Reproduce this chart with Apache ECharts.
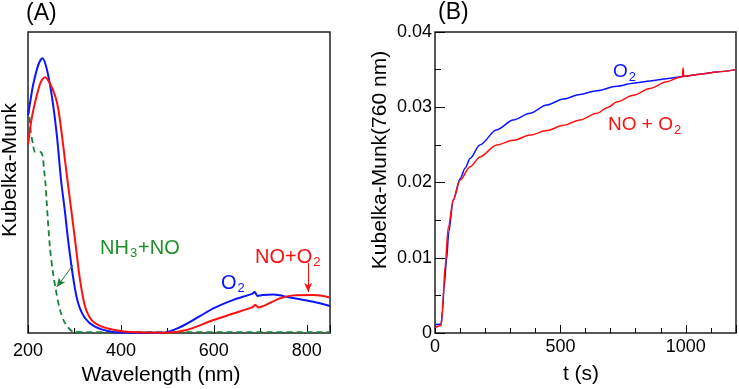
<!DOCTYPE html>
<html>
<head>
<meta charset="utf-8">
<script src="https://cdn.jsdelivr.net/npm/echarts@6/dist/echarts.min.js"></script>
<style>html,body{margin:0;padding:0;background:#fff;}#c{width:739px;height:389px;}</style>
</head>
<body>
<div id="c"></div>
<script>
// ---- Panel A: spectra ----
const wlBlue = [200, 205, 211, 222, 231, 240, 251, 262, 271, 279, 287, 298, 308, 323, 344, 380, 420, 490, 527, 570, 599, 642, 682, 688, 694, 705, 728, 764, 814, 850];
const kmBlue = [0.724, 0.77, 0.824, 0.89, 0.913, 0.88, 0.79, 0.658, 0.51, 0.41, 0.30, 0.176, 0.099, 0.049, 0.021, 0.004, 0.001, 0.001, 0.019, 0.056, 0.082, 0.11, 0.13, 0.136, 0.123, 0.126, 0.128, 0.118, 0.104, 0.09];
const wlRed = [200, 208, 219, 228, 237, 247, 258, 265, 272, 280, 288, 294, 303, 312, 323, 337, 359, 387, 420, 498, 541, 599, 642, 682, 689, 696, 710, 742, 771, 814, 850];
const kmRed = [0.625, 0.713, 0.79, 0.835, 0.85, 0.83, 0.79, 0.746, 0.669, 0.569, 0.47, 0.398, 0.287, 0.176, 0.087, 0.043, 0.021, 0.01, 0.003, 0.001, 0.01, 0.043, 0.065, 0.085, 0.093, 0.085, 0.092, 0.115, 0.125, 0.126, 0.118];
const wlGreen = [200, 203, 206, 211, 215, 226, 231, 235, 238, 240, 247, 254, 260, 269, 280, 298, 320, 850];
const kmGreen = [0.75, 0.72, 0.669, 0.625, 0.602, 0.602, 0.591, 0.536, 0.49, 0.44, 0.287, 0.198, 0.143, 0.076, 0.032, 0.004, 0.003, 0.003];
const wlTicks = [200, 400, 600, 800];

// ---- Panel B: kinetics at 760 nm ----
const tBlue = [0, 25, 30, 36, 46, 55, 73, 100, 120, 140, 179, 246, 312, 379, 445, 512, 578, 645, 724, 791, 858, 924, 990, 1057, 1124, 1200];
const kmTBlue = [0.0011, 0.0012, 0.003, 0.006, 0.0097, 0.0135, 0.0177, 0.0205, 0.0219, 0.0232, 0.025, 0.027, 0.0283, 0.0292, 0.0303, 0.0311, 0.0317, 0.0322, 0.0328, 0.0332, 0.0335, 0.0338, 0.0341, 0.0344, 0.0347, 0.035];
const tRed = [0, 23, 28, 32, 40, 53, 73, 100, 140, 179, 246, 312, 379, 445, 512, 578, 645, 691, 724, 791, 857, 924, 977, 986, 989, 992, 1057, 1124, 1200];
const kmTRed = [0.0007, 0.001, 0.002, 0.0045, 0.0088, 0.0141, 0.0177, 0.0203, 0.0221, 0.0234, 0.025, 0.0256, 0.0263, 0.0269, 0.0276, 0.0283, 0.0292, 0.03, 0.0307, 0.0316, 0.0325, 0.0334, 0.034, 0.0341, 0.0352, 0.0341, 0.0344, 0.0347, 0.035];
const tTicks = [0, 500, 1000];
const kmTicks = [0, 0.01, 0.02, 0.03, 0.04];

const zip = (a, b) => a.map((v, i) => [v, b[i]]);
const FONT = '"Liberation Sans", Arial, sans-serif';
const BLUE = '#0a14ff', RED = '#ff1010', GREEN = '#17803a', GTEXT = '#1f8f2a';

const chart = echarts.init(document.getElementById('c'), null, {renderer: 'canvas'});

function tickAxis(gridIndex, min, max, interval, len, extra) {
  return Object.assign({
    type: 'value', gridIndex, min, max, interval,
    axisLine: {show: false},
    axisTick: {show: true, inside: true, length: len, lineStyle: {color: '#000', width: 1}},
    splitLine: {show: false},
    axisLabel: {show: false}
  }, extra || {});
}
function lbl(margin, values, fmt) {
  return {show: true, color: '#000', fontSize: 18, fontFamily: FONT, margin, customValues: values, formatter: fmt || (v => String(v))};
}

const option = {
  animation: false,
  backgroundColor: '#fff',
  grid: [
    {left: 28, top: 32, width: 302, height: 301, show: true, borderColor: '#222', borderWidth: 1.5, backgroundColor: 'transparent'},
    {left: 435, top: 32, width: 301, height: 301, show: true, borderColor: '#222', borderWidth: 1.5, backgroundColor: 'transparent'}
  ],
  xAxis: [
    tickAxis(0, 200, 850, 200, 8, {position: 'bottom', axisLabel: lbl(9, wlTicks)}),
    tickAxis(0, 200, 850, 100, 5, {position: 'bottom'}),
    tickAxis(1, 0, 1200, 500, 8, {position: 'bottom', axisLabel: lbl(5, tTicks)}),
    tickAxis(1, 0, 1200, 100, 5, {position: 'bottom'})
  ],
  yAxis: [
    {type: 'value', gridIndex: 0, min: 0, max: 1, show: false},
    tickAxis(1, 0, 0.04, 0.01, 10, {position: 'left', axisLabel: lbl(3, kmTicks, v => v === 0 ? '0' : v.toFixed(2))}),
    tickAxis(1, 0, 0.04, 0.005, 6, {position: 'left'})
  ],
  series: [
    {type: 'line', xAxisIndex: 0, yAxisIndex: 0, data: zip(wlGreen, kmGreen), showSymbol: false, smooth: 0.3,
     lineStyle: {color: GREEN, width: 1.8, type: [6, 4]},
     markLine: {silent: true, symbol: ['none', 'arrow'], symbolSize: [6, 9], label: {show: false},
       lineStyle: {color: GREEN, width: 1, type: 'solid'},
       data: [[{coord: [297, 0.226]}, {coord: [262, 0.153]}]]}},
    {type: 'line', xAxisIndex: 0, yAxisIndex: 0, data: zip(wlBlue, kmBlue), showSymbol: false, smooth: 0.3,
     lineStyle: {color: BLUE, width: 2}},
    {type: 'line', xAxisIndex: 0, yAxisIndex: 0, data: zip(wlRed, kmRed), showSymbol: false, smooth: 0.3,
     lineStyle: {color: RED, width: 2},
     markLine: {silent: true, symbol: ['none', 'arrow'], symbolSize: [6, 9], label: {show: false},
       lineStyle: {color: RED, width: 1, type: 'solid'},
       data: [[{coord: [803, 0.233]}, {coord: [803, 0.136]}]]}},
    {type: 'line', xAxisIndex: 2, yAxisIndex: 1, data: zip(tBlue, kmTBlue), showSymbol: false, smooth: 0.3, smoothMonotone: 'x',
     lineStyle: {color: BLUE, width: 1.5}},
    {type: 'line', xAxisIndex: 2, yAxisIndex: 1, data: zip(tRed, kmTRed), showSymbol: false, smooth: 0.3, smoothMonotone: 'x',
     lineStyle: {color: RED, width: 1.5}}
  ],
  graphic: [
    {type: 'text', x: 26, y: 14, style: {text: '(A)', font: '23px ' + FONT, fill: '#000', align: 'left', verticalAlign: 'middle'}},
    {type: 'text', x: 438, y: 13, style: {text: '(B)', font: '23px ' + FONT, fill: '#000', align: 'left', verticalAlign: 'middle'}},
    {type: 'text', x: 161, y: 375, style: {text: 'Wavelength (nm)', font: '21px ' + FONT, fill: '#000', align: 'center', verticalAlign: 'middle'}},
    {type: 'text', x: 581, y: 374, style: {text: 't (s)', font: '21px ' + FONT, fill: '#000', align: 'center', verticalAlign: 'middle'}},
    {type: 'text', x: 10, y: 170, rotation: Math.PI / 2, style: {text: 'Kubelka-Munk', font: '21px ' + FONT, fill: '#000', align: 'center', verticalAlign: 'middle'}},
    {type: 'text', x: 380, y: 160, rotation: Math.PI / 2, style: {text: 'Kubelka-Munk(760 nm)', font: '21px ' + FONT, fill: '#000', align: 'center', verticalAlign: 'middle'}},
    {type: 'text', x: 100, y: 248, style: {text: '{m|NH}{s|3}{m|+NO}', align: 'left', verticalAlign: 'middle',
      rich: {m: {fontSize: 20, fontFamily: FONT, fill: GTEXT, color: GTEXT}, s: {fontSize: 13, fontFamily: FONT, color: GTEXT, fill: GTEXT, padding: [11, 1, 0, 1]}}}},
    {type: 'text', x: 221, y: 283, style: {text: '{m|O}{s|2}', align: 'left', verticalAlign: 'middle',
      rich: {m: {fontSize: 20, fontFamily: FONT, color: BLUE, fill: BLUE}, s: {fontSize: 13, fontFamily: FONT, color: BLUE, fill: BLUE, padding: [11, 0, 0, 1]}}}},
    {type: 'text', x: 255, y: 257, style: {text: '{m|NO+O}{s|2}', align: 'left', verticalAlign: 'middle',
      rich: {m: {fontSize: 20, fontFamily: FONT, color: RED, fill: RED}, s: {fontSize: 13, fontFamily: FONT, color: RED, fill: RED, padding: [11, 0, 0, 1]}}}},
    {type: 'text', x: 613, y: 72, style: {text: '{m|O}{s|2}', align: 'left', verticalAlign: 'middle',
      rich: {m: {fontSize: 19, fontFamily: FONT, color: BLUE, fill: BLUE}, s: {fontSize: 13, fontFamily: FONT, color: BLUE, fill: BLUE, padding: [11, 0, 0, 1]}}}},
    {type: 'text', x: 608, y: 125, style: {text: '{m|NO + O}{s|2}', align: 'left', verticalAlign: 'middle',
      rich: {m: {fontSize: 19, fontFamily: FONT, color: RED, fill: RED}, s: {fontSize: 13, fontFamily: FONT, color: RED, fill: RED, padding: [11, 0, 0, 1]}}}}
  ]
};
chart.setOption(option);
</script>
</body>
</html>
